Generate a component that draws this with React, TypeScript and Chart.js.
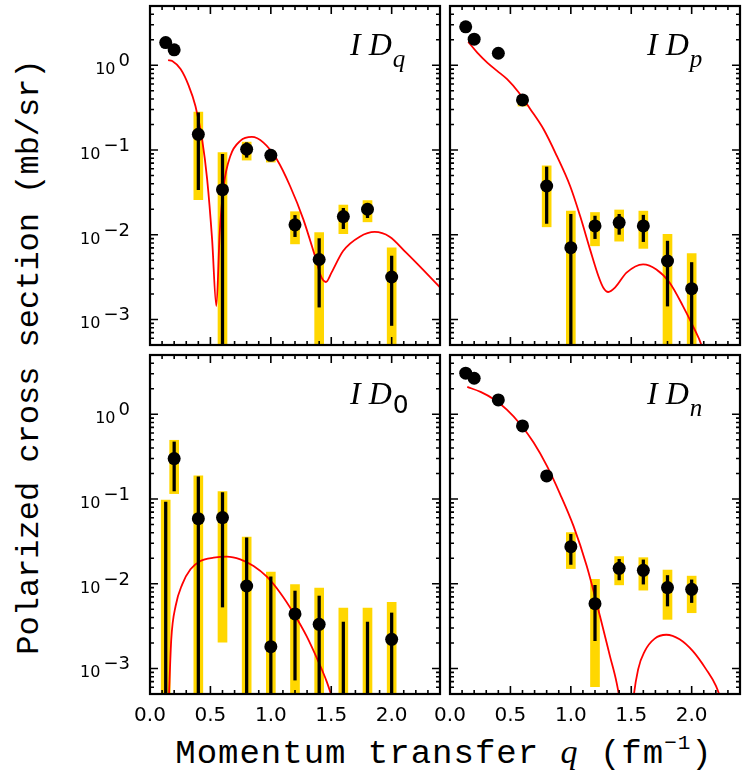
import React, { useEffect, useRef } from 'react';
import { Chart, registerables } from 'chart.js';

Chart.register(...registerables);

// ---------- data ----------
const qPoints = [0.13, 0.2, 0.4, 0.6, 0.8, 1.0, 1.2, 1.4, 1.6, 1.8, 2.0];

const xTickValues = [0.0, 0.5, 1.0, 1.5, 2.0];
const yTickValues = [1e-3, 1e-2, 1e-1, 1];
const yTickBase = '10';
const yTickExponents = ['−3', '−2', '−1', '0'];

// I D_q
const valQ = [1.85, 1.52, 0.153, 0.034, 0.102, 0.0865, 0.0131, 0.0051, 0.0164, 0.02, 0.00317];
const errLoQ = [null, null, 0.034, 1e-5, 0.082, 0.079, 0.0095, 0.0014, 0.0118, 0.0159, 0.00085];
const errHiQ = [null, null, 0.275, 0.089, 0.122, 0.094, 0.0169, 0.009, 0.0205, 0.0235, 0.0056];
const sysLoQ = [null, 1.4, 0.026, 1e-5, 0.076, 0.072, 0.0078, 1e-5, 0.0103, 0.0142, 1e-5];
const sysHiQ = [null, 1.65, 0.28, 0.093, 0.124, 0.097, 0.0187, 0.0106, 0.0224, 0.0253, 0.007];
const curveQx = [0.15, 0.184, 0.253, 0.321, 0.376, 0.431, 0.473, 0.514, 0.549, 0.577, 0.61, 0.665, 0.747, 0.843, 0.939, 1.049, 1.159, 1.269, 1.365, 1.42, 1.456, 1.502, 1.598, 1.736, 1.859, 1.983, 2.12, 2.257, 2.4];
const curveQy = [1.15, 1.12, 0.9, 0.57, 0.331, 0.134, 0.0451, 0.00883, 0.00144, 0.0106, 0.0376, 0.0851, 0.128, 0.1425, 0.122, 0.0777, 0.0376, 0.0152, 0.00561, 0.00311, 0.00277, 0.00357, 0.00643, 0.00949, 0.0108, 0.00949, 0.00614, 0.0039, 0.0024];

// I D_p
const valP = [2.84, 2.03, 1.386, 0.39, 0.0376, 0.00703, 0.0127, 0.0139, 0.0127, 0.0049, 0.00231];
const errLoP = [null, null, null, null, 0.0136, 1e-5, 0.009, 0.0101, 0.0083, 0.00144, 1e-5];
const errHiP = [null, null, null, null, 0.063, 0.0174, 0.0166, 0.0174, 0.017, 0.0084, 0.0047];
const sysLoP = [null, null, null, 0.33, 0.0124, 1e-5, 0.0074, 0.0084, 0.0069, 1e-5, 1e-5];
const sysHiP = [null, null, null, 0.43, 0.065, 0.019, 0.0183, 0.0196, 0.019, 0.0101, 0.006];
const curvePx = [0.151, 0.2255, 0.308, 0.39, 0.4726, 0.569, 0.665, 0.7746, 0.884, 0.994, 1.077, 1.159, 1.228, 1.269, 1.31, 1.365, 1.461, 1.598, 1.708, 1.818, 1.928, 2.024, 2.079, 2.12];
const curvePy = [1.887, 1.41, 1.075, 0.857, 0.684, 0.476, 0.303, 0.1756, 0.0851, 0.0376, 0.0166, 0.00672, 0.00326, 0.00237, 0.00211, 0.00237, 0.00357, 0.00448, 0.0039, 0.00272, 0.00144, 0.000764, 0.000508, 0.0003];

// I D_0
const val0 = [null, 0.3, 0.0586, 0.0603, 0.0094, 0.00181, 0.0044, 0.00332, null, null, 0.00221];
const errLo0 = [1e-5, 0.1244, 1e-5, 0.00531, 1e-5, 1e-5, 0.00073, 1e-5, 1e-5, 1e-5, 1e-5];
const errHi0 = [0.0922, 0.471, 0.182, 0.119, 0.0347, 0.0121, 0.0082, 0.00716, 0.00353, 0.00353, 0.00452];
const sysLo0 = [1e-5, 0.1157, 1e-5, 0.00205, 1e-5, 1e-5, 1e-5, 1e-5, 1e-5, 1e-5, 1e-5];
const sysHi0 = [0.0974, 0.493, 0.187, 0.122, 0.0355, 0.01375, 0.00975, 0.0089, 0.00517, 0.00517, 0.00604];
const curve0x = [0.155, 0.176, 0.212, 0.2666, 0.335, 0.4176, 0.527, 0.637, 0.747, 0.857, 0.967, 1.077, 1.186, 1.296, 1.392, 1.461, 1.52];
const curve0y = [0.0004, 0.00221, 0.00546, 0.00984, 0.0148, 0.01855, 0.0203, 0.0209, 0.0194, 0.0162, 0.0121, 0.00783, 0.00455, 0.00241, 0.00122, 0.00071, 0.0004];

// I D_n
const valN = [3.05, 2.66, 1.476, 0.728, 0.187, 0.0274, 0.00582, 0.0152, 0.0144, 0.009, 0.0086];
const errLoN = [null, null, null, null, null, 0.0169, 0.00213, 0.0111, 0.0099, 0.00546, 0.006];
const errHiN = [null, null, null, null, null, 0.0383, 0.00957, 0.0194, 0.0191, 0.0125, 0.0111];
const sysLoN = [null, null, null, null, 0.168, 0.0151, 0.00061, 0.0097, 0.0084, 0.0038, 0.00455];
const sysHiN = [null, null, null, null, 0.192, 0.0401, 0.0113, 0.0209, 0.0203, 0.0145, 0.0123];
const curveN1x = [0.143, 0.253, 0.3627, 0.4726, 0.582, 0.692, 0.802, 0.912, 1.0217, 1.1316, 1.241, 1.3237, 1.3787, 1.405, 1.42];
const curveN1y = [2.1, 1.835, 1.503, 1.125, 0.762, 0.463, 0.2455, 0.1136, 0.0481, 0.0162, 0.00416, 0.0014, 0.00068, 0.0004, 0.0002];
const curveN2x = [1.5, 1.515, 1.557, 1.612, 1.694, 1.79, 1.9, 2.01, 2.12, 2.202, 2.25];
const curveN2y = [0.0002, 0.0004, 0.000976, 0.0016, 0.00225, 0.0025, 0.00221, 0.0016, 0.000976, 0.00062, 0.0004];

// ---------- helpers ----------
type Num = number | null;
const barData = (lo: Num[], hi: Num[]) =>
  qPoints
    .map((q, i) => (lo[i] == null || hi[i] == null ? null : { x: q, y: [lo[i], hi[i]] }))
    .filter(Boolean);
const pointData = (v: Num[]) =>
  qPoints.map((q, i) => (v[i] == null ? null : { x: q, y: v[i] })).filter(Boolean);
const curveData = (xs: number[], ys: number[]) => xs.map((x, i) => ({ x, y: ys[i] }));

const frameTicks = {
  id: 'frameTicks',
  afterDatasetsDraw(chart: any) {
    const { ctx, chartArea: a, scales } = chart;
    const xs = scales.x;
    const ys = scales.y;
    ctx.save();
    ctx.strokeStyle = '#000';
    ctx.lineWidth = 1.6;
    ctx.beginPath();
    for (let i = 0; i <= 24; i++) {
      const v = i / 10;
      const px = xs.getPixelForValue(v);
      const len = i % 5 === 0 ? 8 : 4;
      ctx.moveTo(px, a.bottom);
      ctx.lineTo(px, a.bottom - len);
      ctx.moveTo(px, a.top);
      ctx.lineTo(px, a.top + len);
    }
    for (let e = -4; e <= 0; e++) {
      for (let k = 1; k <= 9; k++) {
        const v = k * Math.pow(10, e);
        if (v < ys.min || v > ys.max) continue;
        const py = ys.getPixelForValue(v);
        const len = k === 1 ? 8 : 4;
        ctx.moveTo(a.left, py);
        ctx.lineTo(a.left + len, py);
        ctx.moveTo(a.right, py);
        ctx.lineTo(a.right - len, py);
      }
    }
    ctx.stroke();
    ctx.lineWidth = 2.2;
    ctx.strokeRect(a.left, a.top, a.right - a.left, a.bottom - a.top);

    // power-of-ten labels on the left axis (base + raised exponent)
    if (ys.options.display) {
      ctx.fillStyle = '#000';
      ctx.textAlign = 'left';
      ctx.textBaseline = 'alphabetic';
      const baseFont = '16px "DejaVu Sans", sans-serif';
      const expFont = '18px "DejaVu Sans", sans-serif';
      yTickValues.forEach((v, i) => {
        const py = ys.getPixelForValue(v);
        ctx.font = expFont;
        const we = ctx.measureText(yTickExponents[i]).width;
        ctx.font = baseFont;
        const wb = ctx.measureText(yTickBase).width;
        const right = a.left - 20;
        const x0 = right - we - 3 - wb;
        ctx.fillText(yTickBase, x0, py + 9);
        ctx.font = expFont;
        ctx.fillText(yTickExponents[i], right - we, py + 1);
      });
    }
    ctx.restore();
  },
};

const zeroPad = (s: any) => {
  s.paddingTop = 0;
  s.paddingBottom = 0;
  s.paddingLeft = 0;
  s.paddingRight = 0;
};

interface PanelDef {
  vals: Num[];
  errLo: Num[];
  errHi: Num[];
  sysLo: Num[];
  sysHi: Num[];
  curves: { x: number; y: number }[][];
  showX: boolean;
  showY: boolean;
  left: number;
  top: number;
  width: number;
  height: number;
  pad: { left: number; right: number; top: number; bottom: number };
}

function Panel(p: PanelDef) {
  const ref = useRef<HTMLCanvasElement>(null);
  useEffect(() => {
    if (!ref.current) return;
    const chart = new Chart(ref.current, {
      type: 'scatter',
      data: {
        datasets: [
          {
            type: 'bar',
            data: barData(p.sysLo, p.sysHi) as any,
            backgroundColor: '#FFD700',
            barThickness: 9,
            grouped: false,
            borderWidth: 0,
            order: 4,
            clip: 0,
          } as any,
          ...p.curves.map(
            (c) =>
              ({
                type: 'line',
                data: c,
                borderColor: '#FF0000',
                borderWidth: 1.8,
                pointRadius: 0,
                cubicInterpolationMode: 'monotone',
                capBezierPoints: false,
                fill: false,
                order: 3,
                clip: 0,
              } as any)
          ),
          {
            type: 'bar',
            data: barData(p.errLo, p.errHi) as any,
            backgroundColor: '#000000',
            barThickness: 2.6,
            grouped: false,
            borderWidth: 0,
            order: 2,
            clip: 0,
          } as any,
          {
            type: 'scatter',
            data: pointData(p.vals) as any,
            backgroundColor: '#000000',
            borderWidth: 0,
            pointRadius: 6.5,
            order: 1,
            clip: 0,
          } as any,
        ],
      },
      options: {
        animation: false,
        responsive: false,
        events: [],
        layout: { padding: p.pad, autoPadding: false } as any,
        plugins: { legend: { display: false }, tooltip: { enabled: false } },
        scales: {
          x: {
            type: 'linear',
            min: 0,
            max: 2.4,
            offset: false,
            bounds: 'data',
            display: p.showX,
            grid: { display: false, drawTicks: false },
            border: { display: false },
            afterBuildTicks: (s: any) => {
              s.ticks = xTickValues.map((v) => ({ value: v }));
            },
            afterFit: (s: any) => {
              s.height = p.showX ? 36 : 0;
              zeroPad(s);
            },
            ticks: {
              autoSkip: false,
              maxRotation: 0,
              padding: 10,
              color: '#000',
              font: { family: '"DejaVu Sans", sans-serif', size: 20 },
              callback: (v: any) => Number(v).toFixed(1),
            },
          } as any,
          y: {
            type: 'logarithmic',
            min: 5e-4,
            max: 5,
            bounds: 'data',
            beginAtZero: false,
            display: p.showY,
            grid: { display: false, drawTicks: false },
            border: { display: false },
            afterBuildTicks: (s: any) => {
              s.ticks = yTickValues.map((v) => ({ value: v }));
            },
            afterFit: (s: any) => {
              s.width = p.showY ? 90 : 0;
              zeroPad(s);
            },
            ticks: { display: false },
          } as any,
        },
      },
      plugins: [frameTicks],
    } as any);
    return () => chart.destroy();
  }, []);
  return (
    <canvas
      ref={ref}
      width={p.width}
      height={p.height}
      style={{ position: 'absolute', left: p.left, top: p.top, width: p.width, height: p.height }}
    />
  );
}

const labelStyle: React.CSSProperties = {
  position: 'absolute',
  fontFamily: '"Liberation Serif", serif',
  fontStyle: 'italic',
  fontSize: 32,
  lineHeight: '32px',
  whiteSpace: 'nowrap',
  color: '#000',
};

function PanelLabel({ left, top, sub, upright }: { left: number; top: number; sub: string; upright?: boolean }) {
  return (
    <div style={{ ...labelStyle, left, top }}>
      I D
      <span
        style={{
          fontSize: 25,
          position: 'relative',
          top: upright ? 9 : 12,
          marginLeft: 1,
          fontStyle: upright ? 'normal' : 'italic',
          fontFamily: upright ? '"DejaVu Sans", sans-serif' : '"Liberation Serif", serif',
        }}
      >
        {sub}
      </span>
    </div>
  );
}

export default function App() {
  return (
    <div
      style={{
        position: 'fixed',
        left: 0,
        top: 0,
        width: 747,
        height: 783,
        background: '#ffffff',
        overflow: 'hidden',
      }}
    >
      <Panel
        vals={valQ}
        errLo={errLoQ}
        errHi={errHiQ}
        sysLo={sysLoQ}
        sysHi={sysHiQ}
        curves={[curveData(curveQx, curveQy)]}
        showX={false}
        showY={true}
        left={60}
        top={4}
        width={382}
        height={343}
        pad={{ left: 0, right: 2, top: 2, bottom: 2 }}
      />
      <Panel
        vals={valP}
        errLo={errLoP}
        errHi={errHiP}
        sysLo={sysLoP}
        sysHi={sysHiP}
        curves={[curveData(curvePx, curvePy)]}
        showX={false}
        showY={false}
        left={428}
        top={4}
        width={314}
        height={343}
        pad={{ left: 22, right: 2, top: 2, bottom: 2 }}
      />
      <Panel
        vals={val0}
        errLo={errLo0}
        errHi={errHi0}
        sysLo={sysLo0}
        sysHi={sysHi0}
        curves={[curveData(curve0x, curve0y)]}
        showX={true}
        showY={true}
        left={60}
        top={353}
        width={382}
        height={377}
        pad={{ left: 0, right: 2, top: 2, bottom: 0 }}
      />
      <Panel
        vals={valN}
        errLo={errLoN}
        errHi={errHiN}
        sysLo={sysLoN}
        sysHi={sysHiN}
        curves={[curveData(curveN1x, curveN1y), curveData(curveN2x, curveN2y)]}
        showX={true}
        showY={false}
        left={428}
        top={353}
        width={314}
        height={377}
        pad={{ left: 22, right: 2, top: 2, bottom: 0 }}
      />

      <PanelLabel left={350} top={28} sub="q" />
      <PanelLabel left={647} top={28} sub="p" />
      <PanelLabel left={350} top={377} sub="0" upright />
      <PanelLabel left={647} top={377} sub="n" />

      <div
        style={{
          position: 'absolute',
          left: 30,
          top: 357,
          transform: 'translate(-50%, -50%) rotate(-90deg)',
          fontFamily: '"Liberation Mono", monospace',
          fontSize: 32,
          lineHeight: '36px',
          whiteSpace: 'nowrap',
          color: '#000',
        }}
      >
        Polarized cross section (mb/sr)
      </div>

      <div
        style={{
          position: 'absolute',
          left: 444,
          top: 755,
          transform: 'translate(-50%, -50%)',
          fontFamily: '"Liberation Mono", monospace',
          fontSize: 34,
          letterSpacing: 1,
          lineHeight: '38px',
          whiteSpace: 'nowrap',
          color: '#000',
        }}
      >
        Momentum transfer{' '}
        <span style={{ fontFamily: '"Liberation Serif", serif', fontStyle: 'italic' }}>q</span> (fm
        <span style={{ fontSize: 21, position: 'relative', top: -14 }}>−1</span>)
      </div>
    </div>
  );
}
